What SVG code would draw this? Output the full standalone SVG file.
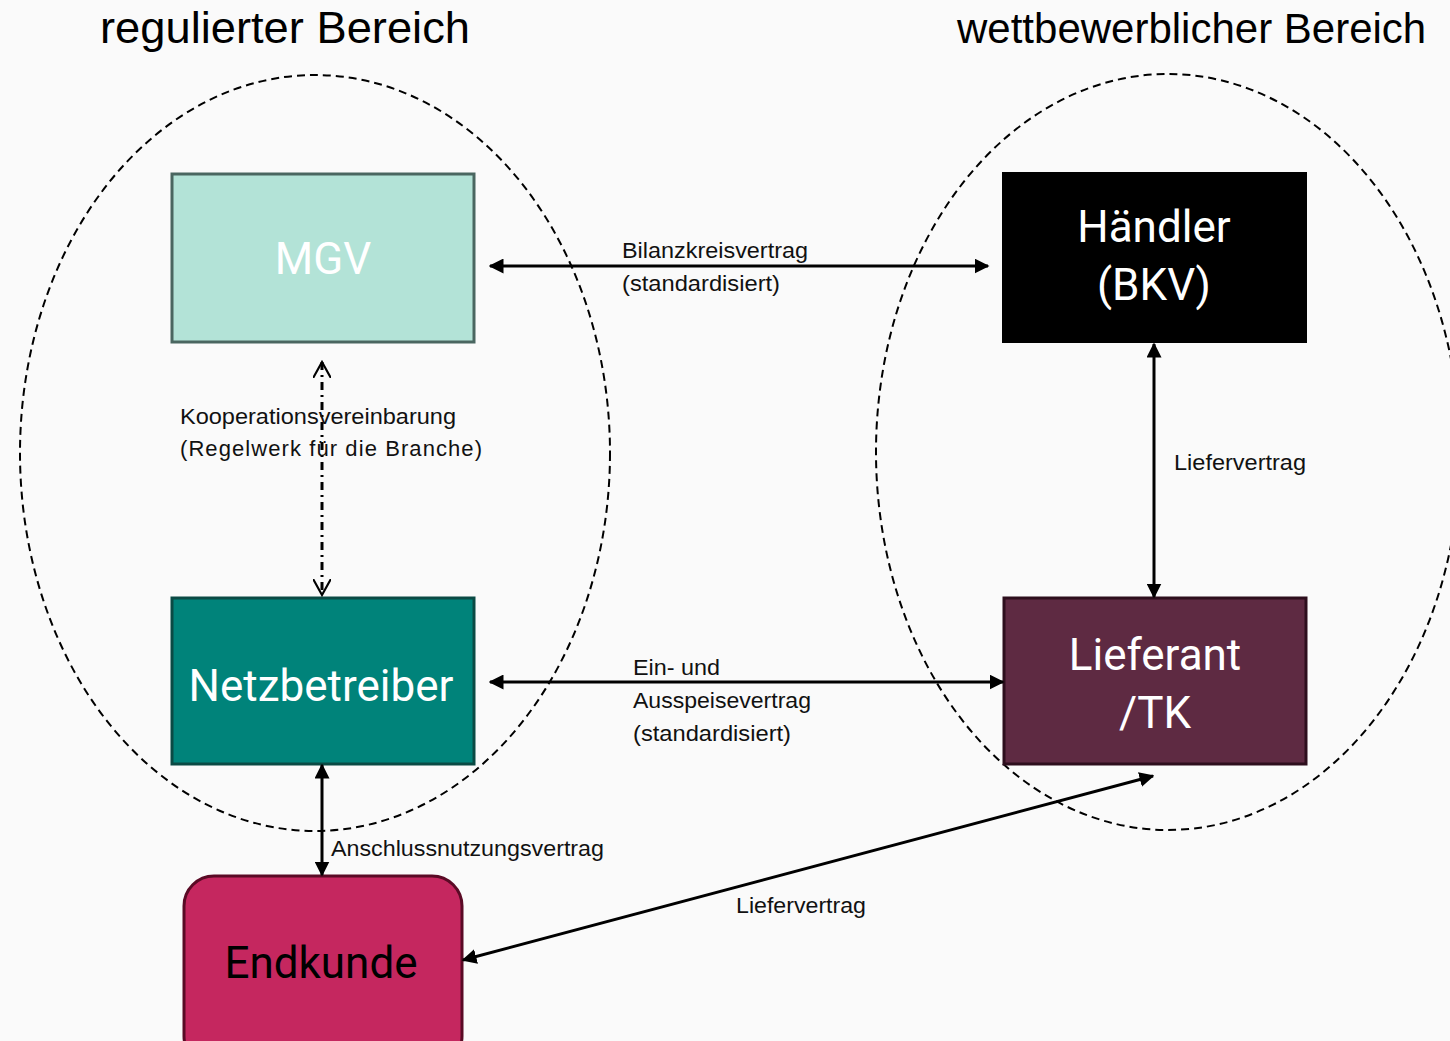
<svg xmlns="http://www.w3.org/2000/svg" width="1450" height="1041" viewBox="0 0 1450 1041">
<defs>
<marker id="ah" viewBox="0 0 10 10" refX="9" refY="5" markerWidth="5" markerHeight="5" orient="auto-start-reverse" markerUnits="strokeWidth"><path d="M0,0 L10,5 L0,10 z" fill="#000"/></marker>
<marker id="oh" viewBox="0 0 10 10" refX="9" refY="5" markerWidth="6" markerHeight="6" orient="auto-start-reverse" markerUnits="strokeWidth"><path d="M0,0 L9,5 L0,10" fill="none" stroke="#000" stroke-width="1.2"/></marker>
<style>
.lbl{font-family:"Liberation Sans",Arial,sans-serif;font-size:22px;fill:#111}
.ttl{font-family:"Liberation Sans",Arial,sans-serif;font-size:45px;fill:#000}
.nt{font-family:Roboto,"Liberation Sans",sans-serif;font-size:44px;text-anchor:middle}
.reg{fill:none;stroke:#000;stroke-width:2;stroke-dasharray:8,5}
.con{fill:none;stroke:#000;stroke-width:3}
</style>
</defs>
<rect width="1450" height="1041" fill="#fafafa"/>
<g id="regions">
<ellipse class="reg" cx="315" cy="453" rx="295" ry="378"/>
<ellipse class="reg" cx="1168" cy="452" rx="292" ry="378"/>
<text class="ttl" x="100" y="43" textLength="370" lengthAdjust="spacingAndGlyphs">regulierter Bereich</text>
<text class="ttl" x="957" y="43" style="font-size:42px">wettbewerblicher Bereich</text>
</g>
<g id="node-mgv">
<rect x="172" y="174" width="302" height="168" fill="#b3e3d7" stroke="#4a6660" stroke-width="3"/>
<text class="nt" x="323" y="274" fill="#fff">MGV</text>
</g>
<g id="node-netz">
<rect x="172" y="598" width="302" height="166" fill="#00837a" stroke="#0a4a44" stroke-width="3"/>
<text class="nt" x="321" y="701" fill="#fff">Netzbetreiber</text>
</g>
<g id="node-endkunde">
<rect x="184" y="876" width="278" height="190" rx="30" fill="#c5275f" stroke="#5a0a25" stroke-width="3"/>
<text class="nt" x="321" y="978" fill="#000">Endkunde</text>
</g>
<g id="node-haendler">
<rect x="1002" y="172" width="305" height="171" fill="#000"/>
<text class="nt" x="1154" y="242" fill="#fff">Händler</text>
<text class="nt" x="1154" y="300" fill="#fff">(BKV)</text>
</g>
<g id="node-lieferant">
<rect x="1004" y="598" width="302" height="166" fill="#5e2a42" stroke="#2d0e1d" stroke-width="3"/>
<text class="nt" x="1155" y="670" fill="#fff">Lieferant</text>
<text class="nt" x="1155" y="728" fill="#fff">/TK</text>
</g>
<g id="connectors">
<line class="con" x1="490" y1="266" x2="988" y2="266" marker-start="url(#ah)" marker-end="url(#ah)"/>
<line class="con" x1="490" y1="682" x2="1003" y2="682" marker-start="url(#ah)" marker-end="url(#ah)"/>
<line class="con" x1="1154" y1="344" x2="1154" y2="597" marker-start="url(#ah)" marker-end="url(#ah)"/>
<line class="con" x1="322" y1="765" x2="322" y2="875" marker-start="url(#ah)" marker-end="url(#ah)"/>
<line class="con" x1="463" y1="960" x2="1153" y2="776" marker-start="url(#ah)" marker-end="url(#ah)"/>
<line x1="322" y1="362" x2="322" y2="595" stroke="#000" stroke-width="3" stroke-dasharray="8,5,2,5" marker-start="url(#oh)" marker-end="url(#oh)"/>
<text class="lbl" x="622" y="258" textLength="186" lengthAdjust="spacingAndGlyphs">Bilanzkreisvertrag</text>
<text class="lbl" x="622" y="291" textLength="158" lengthAdjust="spacingAndGlyphs">(standardisiert)</text>
<text class="lbl" x="180" y="424" textLength="276" lengthAdjust="spacingAndGlyphs">Kooperationsvereinbarung</text>
<text class="lbl" x="180" y="456" textLength="302" lengthAdjust="spacing">(Regelwerk für die Branche)</text>
<text class="lbl" x="1174" y="470" textLength="132" lengthAdjust="spacingAndGlyphs">Liefervertrag</text>
<text class="lbl" x="633" y="675" textLength="87" lengthAdjust="spacingAndGlyphs">Ein- und</text>
<text class="lbl" x="633" y="708" textLength="178" lengthAdjust="spacingAndGlyphs">Ausspeisevertrag</text>
<text class="lbl" x="633" y="741" textLength="158" lengthAdjust="spacingAndGlyphs">(standardisiert)</text>
<text class="lbl" x="331" y="856" textLength="273" lengthAdjust="spacingAndGlyphs">Anschlussnutzungsvertrag</text>
<text class="lbl" x="736" y="913" textLength="130" lengthAdjust="spacingAndGlyphs">Liefervertrag</text>
</g>
</svg>
